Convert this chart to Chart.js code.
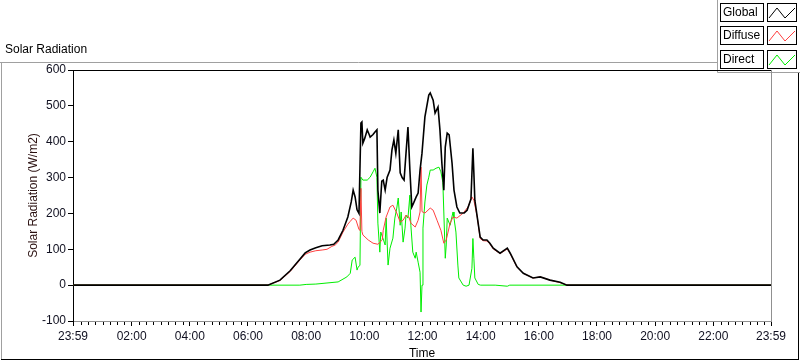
<!DOCTYPE html>
<html>
<head>
<meta charset="utf-8">
<script src="https://cdn.jsdelivr.net/npm/chart.js@4.4.1/dist/chart.umd.min.js"></script>
<style>
  html, body { margin: 0; padding: 0; background: #fff; }
  canvas { display: block; }
</style>
</head>
<body>
<canvas id="solarChart" width="800" height="361"></canvas>
<script>
/* Solar radiation over one day: global, diffuse and direct */

const yTicks = [-100, 0, 100, 200, 300, 400, 500, 600];
const xMajorTicks = ['23:59', '02:00', '04:00', '06:00', '08:00', '10:00', '12:00',
                     '14:00', '16:00', '18:00', '20:00', '22:00', '23:59'];

const globalTimes = ['00:00', '06:41', '07:06', '07:27', '07:47', '07:58', '08:08', '08:20', '08:33', '08:49',
  '08:57', '09:06', '09:16', '09:26', '09:33', '09:37', '09:41', '09:45', '09:49', '09:53',
  '09:55', '09:57', '10:01', '10:06', '10:10', '10:12', '10:18', '10:22', '10:26', '10:28',
  '10:32', '10:36', '10:39', '10:43', '10:47', '10:53', '10:57', '11:01', '11:05', '11:10',
  '11:14', '11:18', '11:22', '11:26', '11:30', '11:34', '11:38', '11:42', '11:47', '11:51',
  '11:55', '11:59', '12:05', '12:13', '12:16', '12:22', '12:26', '12:32', '12:36', '12:40',
  '12:44', '12:47', '12:51', '12:55', '13:01', '13:05', '13:11', '13:17', '13:26', '13:32',
  '13:40', '13:44', '13:46', '13:48', '13:53', '13:59', '14:05', '14:13', '14:19', '14:26',
  '14:40', '14:55', '15:01', '15:15', '15:28', '15:48', '16:03', '16:23', '16:44', '16:58', '23:59'];
const globalValues = [0, 0, 14, 40, 72, 90, 98, 104, 110, 112,
  114, 126, 153, 190, 232, 265, 246, 210, 200, 452,
  455, 396, 410, 433, 420, 413, 420, 427, 433, 265,
  201, 290, 293, 265, 300, 321, 377, 405, 368, 433,
  313, 300, 293, 368, 441, 321, 218, 230, 246, 257,
  321, 368, 469, 530, 536, 516, 480, 497, 433, 340,
  265, 385, 424, 419, 340, 265, 218, 201, 201, 209,
  240, 382, 313, 237, 190, 134, 126, 126, 117, 103,
  89, 103, 89, 51, 33, 20, 23, 14, 8, 0, 0];

const diffuseTimes = ['00:00', '06:41', '07:06', '07:27', '07:47', '07:58', '08:08', '08:20', '08:33', '08:43',
  '08:53', '09:00', '09:06', '09:16', '09:26', '09:31', '09:37', '09:43', '09:49', '09:51',
  '09:53', '09:55', '09:57', '10:08', '10:18', '10:28', '10:37', '10:39', '10:45', '10:53',
  '10:59', '11:07', '11:14', '11:20', '11:26', '11:32', '11:36', '11:45', '11:51', '11:55',
  '11:57', '11:59', '12:05', '12:16', '12:22', '12:30', '12:38', '12:44', '12:49', '12:57',
  '13:03', '13:11', '13:24', '13:34', '13:42', '13:46', '13:53', '13:59', '14:05', '14:13',
  '14:19', '14:26', '14:40', '14:55', '15:01', '15:15', '15:28', '15:48', '16:03', '16:23',
  '16:44', '16:58', '23:59'];
const diffuseValues = [0, 0, 13, 38, 70, 86, 92, 96, 98, 100,
  108, 112, 120, 148, 170, 178, 187, 181, 155, 153,
  270, 150, 140, 126, 117, 114, 126, 153, 190, 218,
  223, 201, 176, 181, 195, 190, 173, 162, 181, 204,
  329, 205, 201, 215, 209, 181, 153, 117, 126, 173,
  190, 187, 201, 218, 246, 237, 190, 130, 124, 123,
  115, 101, 88, 101, 88, 50, 33, 20, 23, 14,
  7, 0, 0];

const directTimes = ['00:00', '06:45', '07:47', '08:00', '08:20', '08:43', '09:06', '09:24', '09:31', '09:35',
  '09:41', '09:45', '09:47', '09:51', '09:53', '09:57', '10:06', '10:12', '10:18', '10:22',
  '10:26', '10:28', '10:32', '10:34', '10:43', '10:45', '10:49', '10:53', '10:59', '11:03',
  '11:07', '11:10', '11:14', '11:16', '11:20', '11:24', '11:26', '11:30', '11:34', '11:36',
  '11:40', '11:45', '11:47', '11:51', '11:55', '11:57', '11:59', '12:01', '12:05', '12:09',
  '12:13', '12:16', '12:22', '12:28', '12:34', '12:38', '12:42', '12:44', '12:47', '12:49',
  '12:51', '12:57', '13:03', '13:05', '13:09', '13:13', '13:15', '13:24', '13:30', '13:36',
  '13:42', '13:44', '13:46', '13:48', '13:55', '14:00', '14:30', '14:55', '15:00', '16:58', '23:59'];
const directValues = [0, 0, 0, 2, 3, 6, 9, 23, 33, 70,
  78, 42, 50, 55, 301, 293, 293, 301, 316, 326,
  301, 173, 92, 148, 112, 187, 56, 103, 131, 187,
  215, 243, 167, 204, 120, 159, 195, 187, 251, 167,
  92, 75, 92, 64, 36, -75, 0, 159, 232, 279,
  301, 321, 321, 326, 329, 316, 287, 204, 75, 112,
  187, 167, 204, 187, 148, 56, 20, 0, -3, 0,
  47, 130, 75, 20, 2, 0, 0, -3, 0, 0, 0];

const FONT = 'Liberation Sans, Arial, sans-serif';
const TEXT = '#101020';

function toMinutes(t) {
    const [h, m] = t.split(':').map(Number);
    return h * 60 + m;
}

function toPoints(times, values) {
    return times.map((t, i) => ({ x: toMinutes(t), y: values[i] }));
}

// axis runs from 23:59 the day before to 23:59
const xMin = -1;
const xMax = 1439;
const majorValues = xMajorTicks.map((t, i) => i === 0 ? xMin : (i === xMajorTicks.length - 1 ? xMax : toMinutes(t)));

function fmtTime(v) {
    const m = ((Math.round(v) % 1440) + 1440) % 1440;
    return String(Math.floor(m / 60)).padStart(2, '0') + ':' + String(m % 60).padStart(2, '0');
}

// frame, title, legend panel and minor ticks around the plot
const framePlugin = {
    id: 'frame',
    beforeDraw(chart) {
        const c = chart.ctx;
        c.save();
        c.fillStyle = '#fff';
        c.fillRect(0, 0, chart.width, chart.height);
        c.restore();
    },
    afterDraw(chart) {
        const c = chart.ctx;
        const a = chart.chartArea;
        const xs = chart.scales.x;
        c.save();
        c.lineWidth = 1;

        // outer panel
        c.strokeStyle = '#a0a0a0';
        c.beginPath();
        c.moveTo(0, 62.5); c.lineTo(717, 62.5);
        c.moveTo(1.5, 62); c.lineTo(1.5, 360);
        c.moveTo(717.5, 0); c.lineTo(717.5, 72.5); c.lineTo(800, 72.5);
        c.stroke();
        c.strokeStyle = '#000';
        c.beginPath();
        c.moveTo(1, 359.5); c.lineTo(799, 359.5);
        c.moveTo(798.5, 73); c.lineTo(798.5, 360);
        c.stroke();

        // plot top and right edges
        c.strokeStyle = '#000';
        c.beginPath();
        c.moveTo(a.left, a.top + 0.5); c.lineTo(a.right, a.top + 0.5);
        c.stroke();
        c.strokeStyle = '#909090';
        c.beginPath();
        c.moveTo(a.right + 0.5, a.top); c.lineTo(a.right + 0.5, a.bottom);
        c.stroke();

        // minor ticks every 15 minutes
        c.strokeStyle = '#000';
        c.beginPath();
        for (let m = 15; m < xMax; m += 15) {
            if (m % 120 === 0) continue;
            const px = Math.round(xs.getPixelForValue(m)) + 0.5;
            c.moveTo(px, a.bottom + 1);
            c.lineTo(px, a.bottom + 4);
        }
        c.stroke();

        // title
        c.fillStyle = '#000';
        c.font = '12px ' + FONT;
        c.textBaseline = 'middle';
        c.textAlign = 'left';
        c.fillText('Solar Radiation', 5, 50);

        // legend
        chart.data.datasets.forEach((ds, i) => {
            const y = 2.5 + i * 23.5;
            c.fillStyle = '#fff';
            c.fillRect(720, y, 43, 18);
            c.fillRect(767, y, 30, 18);
            c.strokeStyle = '#000';
            c.strokeRect(720.5, Math.round(y) + 0.5, 43, 18);
            c.strokeRect(767.5, Math.round(y) + 0.5, 29, 18);
            c.fillStyle = '#000';
            c.fillText(ds.label, 723, Math.round(y) + 10);
            c.strokeStyle = ds.borderColor;
            c.beginPath();
            const bx = 768, by = Math.round(y);
            c.moveTo(bx + 1, by + 15);
            c.lineTo(bx + 9, by + 5);
            c.lineTo(bx + 17, by + 15);
            c.lineTo(bx + 27, by + 5);
            c.stroke();
        });
        c.restore();
    }
};

new Chart(document.getElementById('solarChart'), {
    type: 'line',
    data: {
        datasets: [
            {
                label: 'Global',
                data: toPoints(globalTimes, globalValues),
                borderColor: '#000000',
                borderWidth: 1.6,
            },
            {
                label: 'Diffuse',
                data: toPoints(diffuseTimes, diffuseValues),
                borderColor: '#ff4040',
                borderWidth: 1,
            },
            {
                label: 'Direct',
                data: toPoints(directTimes, directValues),
                borderColor: '#00ee00',
                borderWidth: 1,
            }
        ]
    },
    options: {
        responsive: false,
        animation: false,
        events: [],
        layout: { padding: { left: 0, top: 70, right: 29, bottom: 0 } },
        elements: {
            point: { radius: 0 },
            line: { tension: 0, fill: false }
        },
        plugins: {
            legend: { display: false },
            tooltip: { enabled: false }
        },
        scales: {
            x: {
                type: 'linear',
                min: xMin,
                max: xMax,
                afterBuildTicks: s => { s.ticks = majorValues.map(v => ({ value: v })); },
                afterFit: s => { s.height = 40; },
                ticks: {
                    autoSkip: false,
                    maxRotation: 0,
                    padding: 3,
                    color: TEXT,
                    font: { family: FONT, size: 12 },
                    callback: v => fmtTime(v)
                },
                grid: {
                    drawOnChartArea: false,
                    tickLength: 5,
                    tickColor: '#000'
                },
                border: { color: '#909090', width: 1 },
                title: {
                    display: true,
                    text: 'Time',
                    color: '#000',
                    font: { family: FONT, size: 12 },
                    padding: { top: 0, bottom: 0 }
                }
            },
            y: {
                min: yTicks[0],
                max: yTicks[yTicks.length - 1],
                afterBuildTicks: s => { s.ticks = yTicks.map(v => ({ value: v })); },
                afterFit: s => { s.width = 73; },
                ticks: {
                    padding: 2,
                    color: TEXT,
                    font: { family: FONT, size: 12 }
                },
                grid: {
                    drawOnChartArea: false,
                    tickLength: 5,
                    tickColor: '#000'
                },
                border: { color: '#000', width: 1 },
                title: {
                    display: true,
                    text: 'Solar Radiation (W/m2)',
                    color: '#2a1010',
                    font: { family: FONT, size: 12 },
                    padding: { top: 26, bottom: 0 }
                }
            }
        }
    },
    plugins: [framePlugin]
});
</script>
</body>
</html>
